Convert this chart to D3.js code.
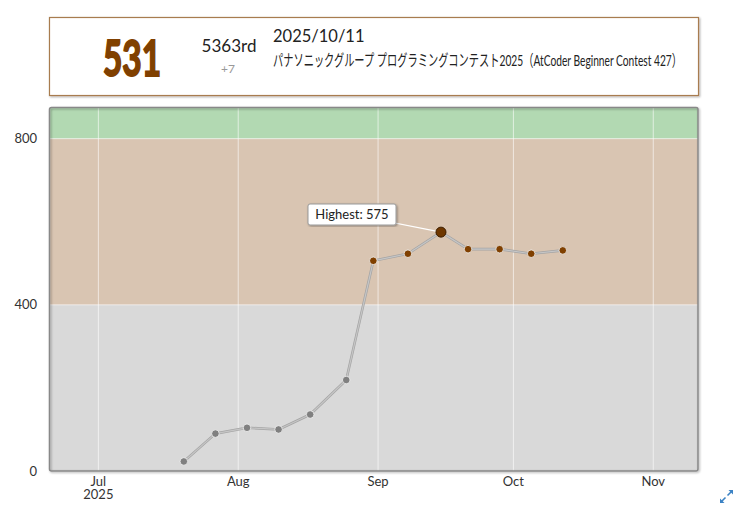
<!DOCTYPE html>
<html>
<head>
<meta charset="utf-8">
<style>
  body { margin: 0; background: #fff; }
  text { font-family: Lato, "Noto Sans CJK JP", sans-serif; }
</style>
</head>
<body>
<svg width="738" height="505"></svg>
<script src="https://d3js.org/d3.v7.min.js"></script>
<script>
// contest end times (local) and the rating after each one
var contestDates = ["2025-07-19 22:40", "2025-07-26 22:40", "2025-08-02 22:40", "2025-08-09 22:40",
    "2025-08-16 22:40", "2025-08-24 22:40", "2025-08-30 22:40", "2025-09-07 14:40",
    "2025-09-14 22:40", "2025-09-20 22:40", "2025-09-27 22:40", "2025-10-04 22:40",
    "2025-10-11 22:40"];
var ratings = [23, 90, 104, 100, 136, 219, 506, 523, 575, 534, 534, 523, 531];

var yTicks = [0, 400, 800];
var bandEdges = [0, 400, 800, 875];
var monthTicks = ["2025-07-01", "2025-08-01", "2025-09-01", "2025-10-01", "2025-11-01"];
var xExtent = ["2025-06-20 04:00", "2025-11-10 22:00"];

// header panel
var lastRating = 531;
var lastRank = "5363rd";
var lastDiff = "+7";
var lastDate = "2025/10/11";
var lastContest = "パナソニックグループ プログラミングコンテスト2025（AtCoder Beginner Contest 427）";

var rankColors = ["#808080", "#804000", "#008000"];

var parseTime = d3.timeParse("%Y-%m-%d %H:%M");
var parseDay = d3.timeParse("%Y-%m-%d");

var data = contestDates.map(function(d, i) {
    return { date: parseTime(d), rating: ratings[i] };
});
var best = data.reduce(function(a, b) { return b.rating > a.rating ? b : a; });

var svg = d3.select("svg");
var defs = svg.append("defs");

var shadow = defs.append("filter").attr("id", "shadow")
    .attr("x", "-5%").attr("y", "-5%").attr("width", "110%").attr("height", "110%");
shadow.append("feDropShadow").attr("dx", 1).attr("dy", 1)
    .attr("stdDeviation", 1).attr("flood-color", "#000").attr("flood-opacity", 0.35);

// plot box (window.top is reserved, so prefixed names)
var pLeft = 49.5, pRight = 698, pTop = 107.5, pBottom = 471;

var x = d3.scaleTime()
    .domain(xExtent.map(parseTime))
    .range([pLeft, pRight]);

var y = d3.scaleLinear()
    .domain([0, bandEdges[bandEdges.length - 1]])
    .range([pBottom, pTop]);

defs.append("clipPath").attr("id", "plot")
  .append("rect")
    .attr("x", pLeft).attr("y", pTop)
    .attr("width", pRight - pLeft).attr("height", pBottom - pTop);

// ---- header panel ----
svg.append("rect")
    .attr("x", 49.5).attr("y", 17.5)
    .attr("width", 649).attr("height", 78)
    .attr("fill", "#fff")
    .attr("stroke", "#a87c50")
    .attr("stroke-width", 1.2)
    .attr("filter", "url(#shadow)");

svg.append("text")
    .attr("x", 132).attr("y", 75.5)
    .attr("text-anchor", "middle")
    .attr("font-family", "'DejaVu Sans', sans-serif")
    .attr("font-weight", "bold")
    .attr("font-size", 50)
    .attr("textLength", 58)
    .attr("lengthAdjust", "spacingAndGlyphs")
    .attr("fill", rankColors[1])
    .attr("stroke", rankColors[1])
    .attr("stroke-width", 2)
    .text(lastRating);

svg.append("text")
    .attr("x", 229).attr("y", 52)
    .attr("text-anchor", "middle")
    .attr("font-size", 17)
    .attr("fill", "#222")
    .text(lastRank);

svg.append("text")
    .attr("x", 228).attr("y", 73)
    .attr("text-anchor", "middle")
    .attr("font-size", 12)
    .attr("fill", "#999")
    .text(lastDiff);

svg.append("text")
    .attr("x", 273).attr("y", 42)
    .attr("font-size", 16.5)
    .attr("fill", "#222")
    .text(lastDate);

svg.append("text")
    .attr("x", 273).attr("y", 66)
    .attr("font-size", 16)
    .attr("textLength", 409)
    .attr("lengthAdjust", "spacingAndGlyphs")
    .attr("fill", "#222")
    .text(lastContest);

// ---- plot area ----
var plot = svg.append("g").attr("clip-path", "url(#plot)");

plot.selectAll("rect.band")
    .data(d3.pairs(bandEdges))
  .enter().append("rect")
    .attr("class", "band")
    .attr("x", pLeft)
    .attr("width", pRight - pLeft)
    .attr("y", function(d) { return y(d[1]); })
    .attr("height", function(d) { return y(d[0]) - y(d[1]); })
    .attr("fill", function(d, i) { return rankColors[i]; })
    .attr("fill-opacity", 0.3);

// grid lines
plot.selectAll("line.vgrid")
    .data(monthTicks.map(parseDay))
  .enter().append("line")
    .attr("class", "vgrid")
    .attr("x1", function(d) { return x(d); })
    .attr("x2", function(d) { return x(d); })
    .attr("y1", pTop).attr("y2", pBottom)
    .attr("stroke", "#fff").attr("stroke-opacity", 0.6);

plot.selectAll("line.hgrid")
    .data(yTicks.slice(1))
  .enter().append("line")
    .attr("class", "hgrid")
    .attr("x1", pLeft).attr("x2", pRight)
    .attr("y1", function(d) { return y(d); })
    .attr("y2", function(d) { return y(d); })
    .attr("stroke", "#fff").attr("stroke-opacity", 0.6);

// frame
svg.append("rect")
    .attr("x", pLeft).attr("y", pTop)
    .attr("width", pRight - pLeft).attr("height", pBottom - pTop)
    .attr("rx", 2)
    .attr("fill", "none")
    .attr("stroke", "#888")
    .attr("stroke-width", 1.5)
    .attr("filter", "url(#shadow)");

// rating line
var line = d3.line()
    .x(function(d) { return x(d.date); })
    .y(function(d) { return y(d.rating); });

svg.append("path")
    .datum(data)
    .attr("d", line)
    .attr("fill", "none")
    .attr("stroke", "#a4a4a4")
    .attr("stroke-width", 2.6)
    .attr("stroke-linejoin", "round");

svg.append("path")
    .datum(data)
    .attr("d", line)
    .attr("fill", "none")
    .attr("stroke", "#c6c6c6")
    .attr("stroke-width", 1.2)
    .attr("stroke-linejoin", "round");

// highest tooltip (connector first, box on top)
var tipX = 352, tipY = 214.5;
svg.append("line")
    .attr("x1", tipX).attr("y1", tipY)
    .attr("x2", x(best.date)).attr("y2", y(best.rating))
    .attr("stroke", "#fff").attr("stroke-width", 1.2);

svg.selectAll("circle.pt")
    .data(data)
  .enter().append("circle")
    .attr("class", "pt")
    .attr("cx", function(d) { return x(d.date); })
    .attr("cy", function(d) { return y(d.rating); })
    .attr("r", function(d) { return d === best ? 5 : 3.8; })
    .attr("fill", function(d) {
        if (d === best) return "#6e3700";
        return rankColors[Math.floor(d.rating / 400)];
    })
    .attr("stroke", function(d) { return d === best ? "#3c1e00" : "#f2f2f2"; })
    .attr("stroke-width", function(d) { return d === best ? 1 : 0.8; });

var tip = svg.append("g").attr("transform", "translate(" + tipX + "," + tipY + ")");
tip.append("rect")
    .attr("x", -44).attr("y", -10.5)
    .attr("width", 88).attr("height", 21)
    .attr("rx", 2)
    .attr("fill", "#fff")
    .attr("stroke", "#999")
    .attr("filter", "url(#shadow)");
tip.append("text")
    .attr("y", 4.5)
    .attr("text-anchor", "middle")
    .attr("font-size", 13)
    .attr("fill", "#222")
    .text("Highest: " + best.rating);

// axis labels
svg.selectAll("text.ylab")
    .data(yTicks)
  .enter().append("text")
    .attr("class", "ylab")
    .attr("x", 37)
    .attr("y", function(d) { return y(d) + 4.5; })
    .attr("text-anchor", "end")
    .attr("font-size", 13)
    .attr("fill", "#333")
    .text(function(d) { return d; });

var monthFmt = d3.timeFormat("%b");
svg.selectAll("text.xlab")
    .data(monthTicks.map(parseDay))
  .enter().append("text")
    .attr("class", "xlab")
    .attr("x", function(d) { return x(d); })
    .attr("y", 485.5)
    .attr("text-anchor", "middle")
    .attr("font-size", 13)
    .attr("fill", "#333")
    .text(function(d) { return monthFmt(d); });

svg.append("text")
    .attr("x", x(parseDay(monthTicks[0])))
    .attr("y", 498.5)
    .attr("text-anchor", "middle")
    .attr("font-size", 13)
    .attr("fill", "#333")
    .text(d3.timeFormat("%Y")(parseDay(monthTicks[0])));

// expand icon
var icon = svg.append("g").attr("fill", "#3b82c4").attr("stroke", "#3b82c4");
icon.append("line").attr("x1", 721).attr("y1", 502).attr("x2", 725.5).attr("y2", 497.5).attr("stroke-width", 1.6);
icon.append("line").attr("x1", 727.5).attr("y1", 495.5).attr("x2", 732).attr("y2", 491).attr("stroke-width", 1.6);
icon.append("path").attr("d", "M720,503 L720,498.5 L724.5,503 Z").attr("stroke", "none");
icon.append("path").attr("d", "M733,490 L733,494.5 L728.5,490 Z").attr("stroke", "none");
</script>
</body>
</html>
